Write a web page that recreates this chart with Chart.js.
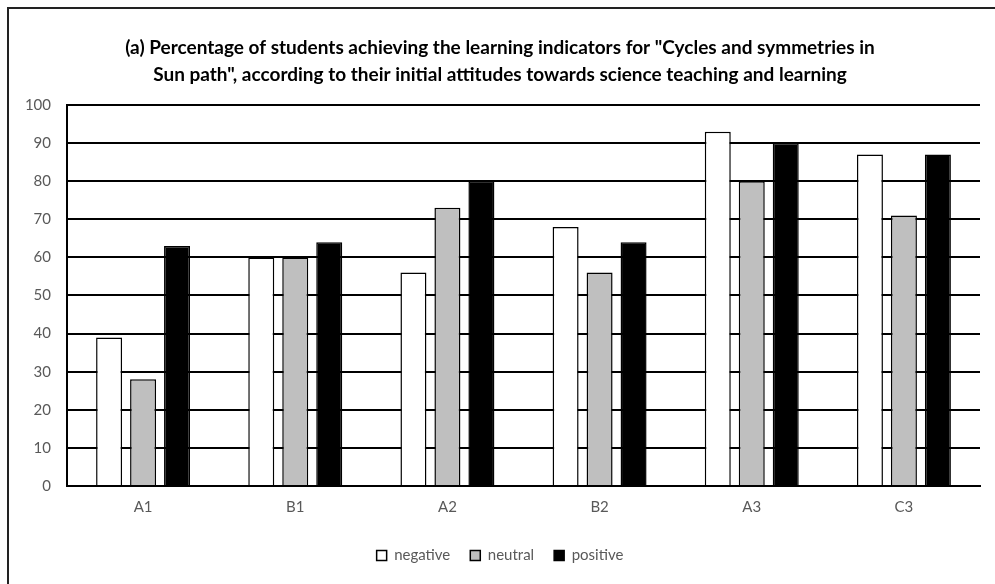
<!DOCTYPE html>
<html>
<head>
<meta charset="utf-8">
<script src="https://cdn.jsdelivr.net/npm/chart.js@4"></script>
<style>
    html, body { margin: 0; padding: 0; background: #fff; overflow: hidden; }
    #frame {
        position: absolute; left: 7px; top: 7px; width: 1100px; height: 700px;
        border-left: 2px solid #222; border-top: 2px solid #222;
    }
    #wrap { position: absolute; left: 0; top: 0; width: 995px; height: 584px; }
</style>
</head>
<body>
<div id="frame"></div>
<div id="wrap"><canvas id="sunChart"></canvas></div>
<script>
// Data
const categories = ['A1', 'B1', 'A2', 'B2', 'A3', 'C3'];
const negativeValues = [39, 60, 56, 68, 93, 87];
const neutralValues = [28, 60, 73, 56, 80, 71];
const positiveValues = [63, 64, 80, 64, 90, 87];
const yTicks = [0, 10, 20, 30, 40, 50, 60, 70, 80, 90, 100];
const titleLines = [
    '(a) Percentage of students achieving the learning indicators for "Cycles and symmetries in',
    'Sun path", according to their initial attitudes towards science teaching and learning'
];

const fontFamily = 'Lato, "Open Sans", sans-serif';

document.addEventListener('DOMContentLoaded', () => {
    const ctx = document.getElementById('sunChart').getContext('2d');
    new Chart(ctx, {
        type: 'bar',
        data: {
            labels: categories,
            datasets: [{
                label: 'negative',
                data: negativeValues,
                backgroundColor: '#ffffff',
                borderColor: '#000000',
                borderWidth: 1.5
            }, {
                label: 'neutral',
                data: neutralValues,
                backgroundColor: '#bfbfbf',
                borderColor: '#000000',
                borderWidth: 1.5
            }, {
                label: 'positive',
                data: positiveValues,
                backgroundColor: '#000000',
                borderColor: '#000000',
                borderWidth: 1.5
            }]
        },
        options: {
            responsive: true,
            maintainAspectRatio: false,
            animation: false,
            categoryPercentage: 0.67,
            barPercentage: 0.765,
            layout: {
                padding: { left: 20, right: 15, top: 20, bottom: 11 }
            },
            plugins: {
                title: {
                    display: true,
                    text: titleLines,
                    color: '#000000',
                    font: { family: fontFamily, size: 19, weight: 'bold', lineHeight: 1.42 },
                    padding: { top: 14, bottom: 17 }
                },
                legend: {
                    display: true,
                    position: 'bottom',
                    labels: {
                        color: '#595959',
                        font: { family: fontFamily, size: 15 },
                        boxWidth: 10,
                        boxHeight: 10,
                        padding: 20
                    }
                },
                tooltip: { enabled: false }
            },
            scales: {
                x: {
                    grid: { display: false },
                    border: { display: true, color: '#000000', width: 2 },
                    ticks: {
                        color: '#595959',
                        font: { family: fontFamily, size: 15 },
                        padding: 4
                    },
                    afterFit: (scale) => {
                        scale.height += 8;
                    }
                },
                y: {
                    min: 0,
                    max: 100,
                    afterBuildTicks: (scale) => {
                        scale.ticks = yTicks.map(v => ({ value: v }));
                    },
                    afterFit: (scale) => {
                        scale.width = 47;
                    },
                    grid: {
                        color: '#000000',
                        lineWidth: 2,
                        drawTicks: false
                    },
                    border: { display: true, color: '#000000', width: 2 },
                    ticks: {
                        color: '#595959',
                        font: { family: fontFamily, size: 15 },
                        padding: 16
                    }
                }
            }
        }
    });
});
</script>
</body>
</html>
